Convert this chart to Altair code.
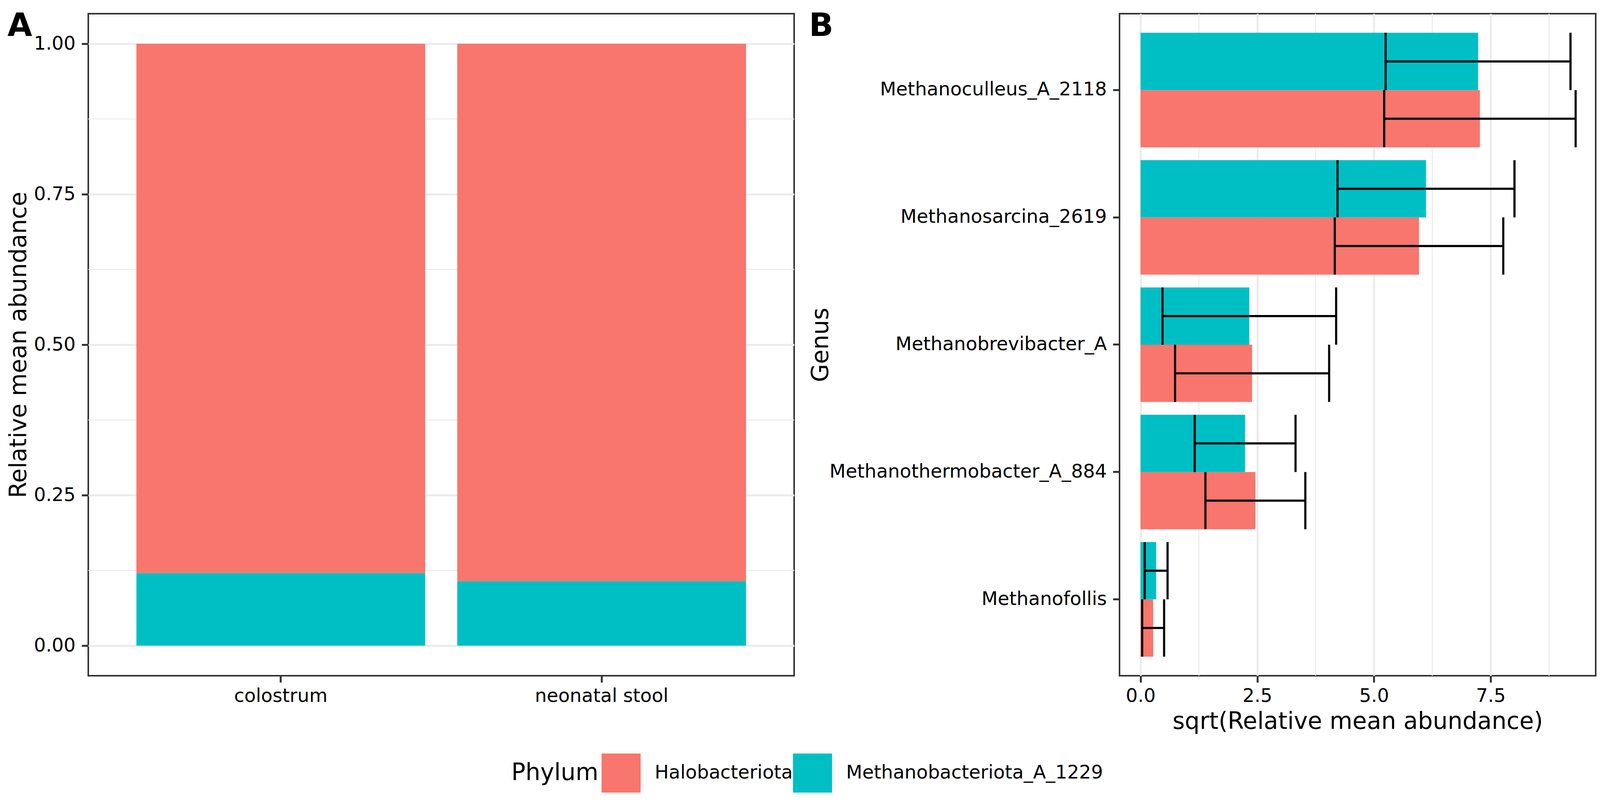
import altair as alt
import pandas as pd

# ---------------- data ----------------
sample_types = ["colostrum", "neonatal stool"]
phyla = ["Halobacteriota", "Methanobacteriota_A_1229"]
phylum_colors = ["#F8766D", "#00BFC4"]
halo_rel = [0.8795, 0.893]
metb_rel = [0.1205, 0.107]

genera = ["Methanoculleus_A_2118", "Methanosarcina_2619", "Methanobrevibacter_A",
          "Methanothermobacter_A_884", "Methanofollis"]
halo_mean = [7.27, 5.965, 2.39, 2.46, 0.27]
halo_sd = [2.05, 1.805, 1.65, 1.07, 0.235]
metb_mean = [7.23, 6.115, 2.33, 2.24, 0.334]
metb_sd = [1.98, 1.895, 1.86, 1.08, 0.245]

y_ticks_a = [0.0, 0.25, 0.5, 0.75, 1.0]
y_minor_a = [0.125, 0.375, 0.625, 0.875]
x_ticks_b = [0.0, 2.5, 5.0, 7.5]
x_minor_b = [1.25, 3.75, 6.25, 8.75]

FONT = "DejaVu Sans"

rows_a = []
for i, s in enumerate(sample_types):
    rows_a.append({"sample": s, "phylum": phyla[0], "value": halo_rel[i], "ord": 1})
    rows_a.append({"sample": s, "phylum": phyla[1], "value": metb_rel[i], "ord": 0})
df_a = pd.DataFrame(rows_a)

rows_b = []
for i, g in enumerate(genera):
    rows_b.append({"genus": g, "phylum": phyla[0], "base": 0.0, "mean": halo_mean[i],
                   "lo": halo_mean[i] - halo_sd[i], "hi": halo_mean[i] + halo_sd[i]})
    rows_b.append({"genus": g, "phylum": phyla[1], "base": 0.0, "mean": metb_mean[i],
                   "lo": metb_mean[i] - metb_sd[i], "hi": metb_mean[i] + metb_sd[i]})
df_b = pd.DataFrame(rows_b)

color_scale = alt.Scale(domain=phyla, range=phylum_colors)
legend = alt.Legend(
    orient="none", legendX=1083, legendY=1893, direction="horizontal",
    title="Phylum", titleOrient="left", titleAnchor="middle", titleBaseline="middle",
    titleFontSize=60, titleFontWeight="normal", titleFont=FONT, titleColor="black",
    titlePadding=8, titleLimit=2000, labelFontSize=48, labelFont=FONT, labelColor="black",
    labelOffset=36, labelLimit=2000, columnPadding=0, symbolType="square",
    symbolSize=10000, symbolStrokeWidth=0, symbolOpacity=1, padding=0,
)

WA, WB, H = 1807, 1219, 1694

# ---------------- panel A ----------------
y_scale_a = alt.Scale(domain=[-0.05, 1.05], nice=False, zero=False)
y_axis_a = alt.Axis(values=y_ticks_a, format=".2f", title="Relative mean abundance",
                    titleX=-160, titleY=H / 2, titleBaseline="alphabetic",
                    titleAngle=270, titleAlign="center", labelPadding=16)
x_a = alt.X("sample:N", sort=sample_types,
            scale=alt.Scale(paddingInner=0.1, paddingOuter=0.15),
            axis=alt.Axis(title=None, labelAngle=0, bandPosition=0.5, labelPadding=11))

minor_a = alt.Chart(pd.DataFrame({"v": y_minor_a})).mark_rule(
    color="#EBEBEB", strokeWidth=2.5).encode(
    y=alt.Y("v:Q", scale=y_scale_a, axis=y_axis_a))
bars_a = alt.Chart(df_a).mark_bar().encode(
    x=x_a,
    y=alt.Y("value:Q", stack="zero", scale=y_scale_a, axis=y_axis_a),
    color=alt.Color("phylum:N", scale=color_scale, legend=legend),
    order=alt.Order("ord:Q", sort="ascending"),
)
label_a = alt.Chart(pd.DataFrame({"t": ["A"]})).mark_text(
    align="left", baseline="alphabetic", fontSize=82, fontWeight="bold",
    font=FONT, color="black").encode(text="t:N", x=alt.value(-207), y=alt.value(57))

panel_a = alt.layer(minor_a, bars_a, label_a).properties(width=WA, height=H)

# ---------------- panel B ----------------
y_b = alt.Y("genus:N", sort=genera,
            scale=alt.Scale(paddingInner=0.1, paddingOuter=0.15),
            axis=alt.Axis(title="Genus", bandPosition=0.5, labelPadding=16,
                          titleX=-747, titleY=H / 2, titleBaseline="alphabetic",
                          titleAngle=270, titleAlign="center"))
y_off = alt.YOffset("phylum:N", scale=alt.Scale(domain=[phyla[1], phyla[0]],
                                                paddingInner=0, paddingOuter=0))
x_scale_b = alt.Scale(domain=[-0.45, 9.75], nice=False, zero=False)
x_axis_b = alt.Axis(values=x_ticks_b, format=".1f", title="sqrt(Relative mean abundance)",
                    labelPadding=11, titlePadding=12)

sub_band = H / 5.2 * 0.45

minor_b = alt.Chart(pd.DataFrame({"v": x_minor_b})).mark_rule(
    color="#EBEBEB", strokeWidth=2.5).encode(
    x=alt.X("v:Q", scale=x_scale_b, axis=x_axis_b))
bars_b = alt.Chart(df_b).mark_bar().encode(
    y=y_b, yOffset=y_off,
    x=alt.X("base:Q", scale=x_scale_b, axis=x_axis_b), x2="mean:Q",
    color=alt.Color("phylum:N", scale=color_scale, legend=legend),
)
err_b = alt.Chart(df_b).mark_rule(color="black", strokeWidth=5.5).encode(
    y=y_b, yOffset=y_off, x=alt.X("lo:Q", scale=x_scale_b, axis=x_axis_b), x2="hi:Q")
cap_lo = alt.Chart(df_b).mark_tick(color="black", thickness=5.5, size=sub_band,
                                   orient="vertical", opacity=1).encode(
    y=y_b, yOffset=y_off, x=alt.X("lo:Q", scale=x_scale_b, axis=x_axis_b))
cap_hi = alt.Chart(df_b).mark_tick(color="black", thickness=5.5, size=sub_band,
                                   orient="vertical", opacity=1).encode(
    y=y_b, yOffset=y_off, x=alt.X("hi:Q", scale=x_scale_b, axis=x_axis_b))
label_b = alt.Chart(pd.DataFrame({"t": ["B"]})).mark_text(
    align="left", baseline="alphabetic", fontSize=82, fontWeight="bold",
    font=FONT, color="black").encode(text="t:N", x=alt.value(-795), y=alt.value(57))

panel_b = alt.layer(minor_b, bars_b, err_b, cap_lo, cap_hi, label_b).properties(width=WB, height=H)

chart = alt.hconcat(panel_a, panel_b, spacing=32).properties(
    padding={"left": 8, "right": 0, "top": 16, "bottom": 0}
).configure(background="white").configure_view(
    stroke="#333333", strokeWidth=4
).configure_axis(
    labelFont=FONT, labelFontSize=48, labelColor="black", labelLimit=2000,
    titleFont=FONT, titleFontSize=60, titleFontWeight="normal", titleColor="black",
    titleLimit=3000,
    tickColor="#333333", tickWidth=5, tickSize=17, domain=False,
    gridColor="#EBEBEB", gridWidth=5,
)

chart.save("out.html", embed_options={"renderer": "svg", "actions": False})
